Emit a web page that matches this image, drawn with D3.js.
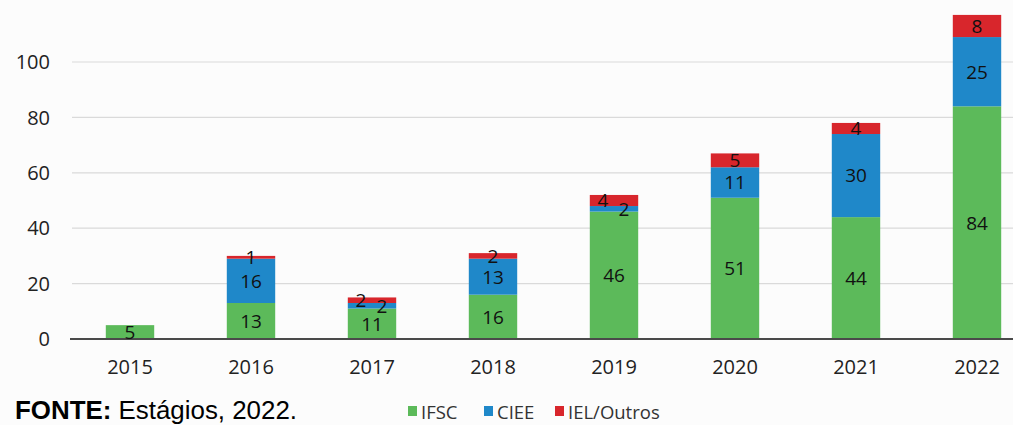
<!DOCTYPE html>
<html><head><meta charset="utf-8">
<script src="https://cdn.jsdelivr.net/npm/d3@7"></script>
<style>
html,body{margin:0;padding:0;background:#fcfcfc;}
svg{display:block;}
</style></head>
<body>
<svg id="chart" width="1013" height="425"></svg>
<script>
const years = ["2015","2016","2017","2018","2019","2020","2021","2022"];
const ifsc = [5, 13, 11, 16, 46, 51, 44, 84];
const ciee = [0, 16, 2, 13, 2, 11, 30, 25];
const iel = [0, 1, 2, 2, 4, 5, 4, 8];
const seriesNames = ["IFSC", "CIEE", "IEL/Outros"];
const seriesColors = ["#5cba5a", "#1f88c9", "#d8262c"];
const yTicks = [0, 20, 40, 60, 80, 100];
const sourceBold = "FONTE:";
const sourceText = " Estágios, 2022.";

const svg = d3.select("#chart");
const W = 1013, H = 425;
const font = "'Open Sans', sans-serif";

const rows = years.map((y, i) => ({year: y, IFSC: ifsc[i], CIEE: ciee[i], "IEL/Outros": iel[i]}));
const stack = d3.stack().keys(seriesNames)(rows);

const x = d3.scaleBand().domain(years).range([69.5, 1037.5]).paddingInner(0.6).paddingOuter(0.3);
const y = d3.scaleLinear().domain([0, 100]).range([339, 62]);

// gridlines
svg.append("g").selectAll("line").data(yTicks.filter(t => t > 0)).join("line")
  .attr("x1", 72).attr("x2", W).attr("y1", d => y(d)).attr("y2", d => y(d))
  .attr("stroke", "#dadada").attr("stroke-width", 1.2);

// y tick labels
svg.append("g").selectAll("text").data(yTicks).join("text")
  .attr("x", 50).attr("y", d => y(d)).attr("dy", "0.36em")
  .attr("text-anchor", "end").attr("font-family", font).attr("font-size", 20)
  .attr("fill", "#222").text(d => d);

// bars
const layers = svg.append("g").selectAll("g").data(stack).join("g")
  .attr("fill", (d, i) => seriesColors[i]);
layers.selectAll("rect").data(d => d.filter(p => p[1] - p[0] > 0)).join("rect")
  .attr("x", d => x(d.data.year)).attr("width", x.bandwidth())
  .attr("y", d => y(d[1])).attr("height", d => y(d[0]) - y(d[1]));

// axis line
svg.append("line").attr("x1", 70).attr("x2", W).attr("y1", y(0)).attr("y2", y(0))
  .attr("stroke", "#4a4a4a").attr("stroke-width", 2);

// x labels
svg.append("g").selectAll("text").data(years).join("text")
  .attr("x", d => x(d) + x.bandwidth() / 2).attr("y", 374)
  .attr("text-anchor", "middle").attr("font-family", font).attr("font-size", 20)
  .attr("fill", "#222").text(d => d);

// data labels
const labels = [];
stack.forEach((layer, si) => {
  layer.forEach((p, i) => {
    const v = p[1] - p[0];
    if (v <= 0) return;
    let dx = 0;
    if (ciee[i] > 0 && ciee[i] < 3 && iel[i] > 0) {
      if (si === 1) dx = 10;
      if (si === 2) dx = -11;
    }
    labels.push({x: x(p.data.year) + x.bandwidth() / 2 + dx, y: y((p[0] + p[1]) / 2), v});
  });
});
svg.append("g").selectAll("text").data(labels).join("text")
  .attr("x", d => d.x).attr("y", d => d.y).attr("dy", "0.36em")
  .attr("text-anchor", "middle").attr("font-family", font).attr("font-size", 19)
  .attr("fill", "#111").text(d => d.v);

// legend
const legX = [408, 484, 555];
const leg = svg.append("g").selectAll("g").data(seriesNames).join("g")
  .attr("transform", (d, i) => `translate(${legX[i]},0)`);
leg.append("rect").attr("x", 0).attr("y", 406).attr("width", 9).attr("height", 10)
  .attr("fill", (d, i) => seriesColors[i]);
leg.append("text").attr("x", 13).attr("y", 419).attr("font-family", font)
  .attr("font-size", 18.5).attr("fill", "#333").text(d => d);

// source
const src = svg.append("text").attr("x", 15).attr("y", 419)
  .attr("font-family", "'Liberation Sans', Arial, sans-serif").attr("font-size", 26)
  .attr("fill", "#000").attr("textLength", 282).attr("lengthAdjust", "spacingAndGlyphs");
src.append("tspan").attr("font-weight", "bold").text(sourceBold);
src.append("tspan").text(sourceText);
</script>
</body></html>
